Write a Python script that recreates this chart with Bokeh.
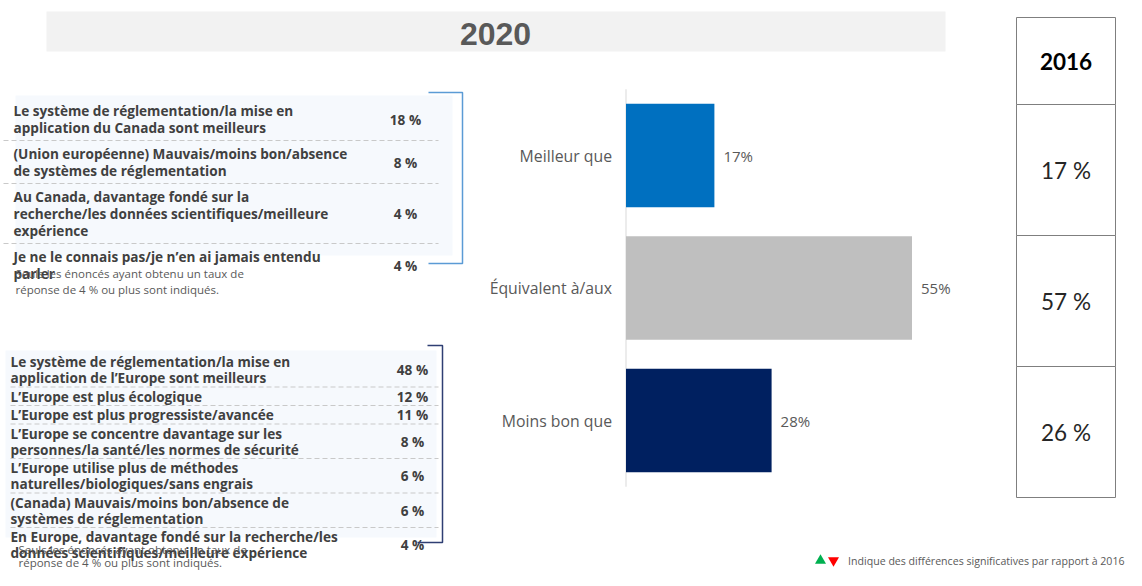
from bokeh.plotting import figure
from bokeh.models import Range1d, ColumnDataSource
from bokeh.core.properties import value
from bokeh.embed import file_html
from bokeh.resources import INLINE

# ---------------- data ----------------
title_year = "2020"
compare_year = "2016"
categories = ["Meilleur que", "Équivalent à/aux", "Moins bon que"]
values_2020 = [17, 55, 28]
values_2016 = [17, 57, 26]
bar_colors = ["#0070C0", "#BFBFBF", "#002060"]

better_reasons = [
    "Le système de réglementation/la mise en\napplication du Canada sont meilleurs",
    "(Union européenne) Mauvais/moins bon/absence\nde systèmes de réglementation",
    "Au Canada, davantage fondé sur la\nrecherche/les données scientifiques/meilleure\nexpérience",
    "Je ne le connais pas/je n’en ai jamais entendu\nparler",
]
better_pct = [18, 8, 4, 4]

worse_reasons = [
    "Le système de réglementation/la mise en\napplication de l’Europe sont meilleurs",
    "L’Europe est plus écologique",
    "L’Europe est plus progressiste/avancée",
    "L’Europe se concentre davantage sur les\npersonnes/la santé/les normes de sécurité",
    "L’Europe utilise plus de méthodes\nnaturelles/biologiques/sans engrais",
    "(Canada) Mauvais/moins bon/absence de\nsystèmes de réglementation",
    "En Europe, davantage fondé sur la recherche/les\ndonnées scientifiques/meilleure expérience",
]
worse_pct = [48, 12, 11, 8, 6, 6, 4]

footnote = "Seuls les énoncés ayant obtenu un taux de\nréponse de 4 % ou plus sont indiqués."
legend_note = "Indique des différences significatives par rapport à 2016"

# ---------------- page geometry ----------------
W, H = 1126, 570
X0, Y0 = 0, 0
FONT = "Open Sans"
TXT = "#404040"
GREY = "#595959"

p = figure(width=W, height=H, x_range=Range1d(X0, X0 + W), y_range=Range1d(Y0 + H, Y0),
           output_backend="svg", toolbar_location=None, min_border=0,
           x_axis_location=None, y_axis_location=None, outline_line_color=None)
p.grid.visible = False
p.background_fill_color = "white"
p.border_fill_color = "white"

# bar scale: value 0 at page x 625.5, 5.2 px per percent; category i at page y 155 + 132.5*i
PX_PER, ZERO_X = 5.2, 625.5
CAT0_Y, CAT_STEP = 155.0, 132.5
p.extra_x_ranges = {"bars": Range1d((X0 - ZERO_X) / PX_PER, (X0 + W - ZERO_X) / PX_PER)}
p.extra_y_ranges = {"bars": Range1d((Y0 + H - CAT0_Y) / CAT_STEP, (Y0 - CAT0_Y) / CAT_STEP)}

# ---------------- title band ----------------
p.quad(left=46, right=945, top=11, bottom=51, fill_color="#F2F2F2", line_color=None)
p.text(x=[495], y=[33], text=[title_year], text_font=value("Liberation Sans"),
       text_font_style="bold", text_font_size="32px", text_color=GREY,
       text_align="center", text_baseline="middle")

# ---------------- tables ----------------
def draw_table(labels, pcts, top, lh, pad, x_text, x_val, x_dash0, x_dash1, size):
    ys_lines, txt_lines, ys_val, dash_y = [], [], [], []
    y = top
    last_line_y = None
    for i, lab in enumerate(labels):
        lines = lab.split("\n")
        hgt = pad + lh * len(lines)
        for j, ln in enumerate(lines):
            ly = y + pad / 2 + lh * (j + 0.5)
            ys_lines.append(ly)
            txt_lines.append(ln)
            last_line_y = ly
        ys_val.append(y + hgt / 2)
        y += hgt
        if i < len(labels) - 1:
            dash_y.append(y)
    p.segment(x0=[x_dash0] * len(dash_y), x1=[x_dash1] * len(dash_y), y0=dash_y, y1=dash_y,
              line_color="#C9C9C9", line_width=1, line_dash="5 3")
    p.text(x=[x_text] * len(txt_lines), y=ys_lines, text=txt_lines, text_font=value(FONT),
           text_font_style="bold", text_font_size=size, text_color=TXT,
           text_align="left", text_baseline="middle")
    p.text(x=[x_val] * len(pcts), y=ys_val, text=[f"{v} %" for v in pcts], text_font=value(FONT),
           text_font_style="bold", text_font_size=size, text_color=TXT,
           text_align="center", text_baseline="middle")
    return last_line_y

def draw_footnote(x, y, lh):
    lines = footnote.split("\n")
    p.text(x=[x] * len(lines), y=[y + lh * k for k in range(len(lines))], text=lines,
           text_font=value(FONT), text_font_size="11.5px", text_color=GREY,
           text_align="left", text_baseline="middle")

# top table
p.quad(left=15, right=452, top=95, bottom=255, fill_color="#F6F9FD", line_color=None)
ly = draw_table(better_reasons, better_pct, 97, 17, 9, 13, 405, 3, 438, "13.6px")
draw_footnote(15, ly, 16)
p.line(x=[428, 462, 462, 428], y=[92, 92, 263, 263], line_color="#5B9BD5", line_width=1.5)

# bottom table
p.quad(left=5, right=436, top=350, bottom=537, fill_color="#F6F9FD", line_color=None)
ly = draw_table(worse_reasons, worse_pct, 352, 16, 2.5, 10, 412, 10, 438, "13.6px")
draw_footnote(18, ly - 3, 13)
p.line(x=[427, 442, 442, 417], y=[345, 345, 542, 542], line_color="#2F3F73", line_width=1.5)

# ---------------- bar chart ----------------
idx = list(range(len(categories)))
src = ColumnDataSource(dict(idx=idx, cat=categories, val=values_2020, color=bar_colors,
                            lab=[f"{v}%" for v in values_2020]))
p.segment(x0=[0], x1=[0], y0=[-0.5], y1=[len(categories) - 0.5], line_color="#D9D9D9",
          line_width=1, x_range_name="bars", y_range_name="bars")
p.hbar(y="idx", left=0, right="val", height=0.78, fill_color="color", line_color=None,
       source=src, x_range_name="bars", y_range_name="bars")
p.text(x=0, y="idx", text="cat", source=src, x_offset=-14, text_font=value(FONT),
       text_font_size="15.8px", text_color=GREY, text_align="right", text_baseline="middle",
       x_range_name="bars", y_range_name="bars")
p.text(x="val", y="idx", text="lab", source=src, x_offset=9, text_font=value(FONT),
       text_font_size="15px", text_color=GREY, text_align="left", text_baseline="middle",
       x_range_name="bars", y_range_name="bars")

# ---------------- 2016 column ----------------
BX0, BX1 = 1016, 1115
edges = [17, 104, 235, 366, 497]
p.quad(left=[BX0] * 4, right=[BX1] * 4, top=edges[:-1], bottom=edges[1:], fill_color="white",
       line_color="#7F7F7F", line_width=1)
p.text(x=[(BX0 + BX1) / 2], y=[(edges[0] + edges[1]) / 2], text=[compare_year],
       text_font=value("Lato"), text_font_style="bold", text_font_size="22.5px",
       text_color="#000000", text_align="center", text_baseline="middle")
p.text(x=[(BX0 + BX1) / 2] * 3, y=[(edges[k] + edges[k + 1]) / 2 for k in range(1, 4)],
       text=[f"{v} %" for v in values_2016], text_font=value("Lato"), text_font_size="22.5px",
       text_color="#262626", text_align="center", text_baseline="middle")

# ---------------- legend note ----------------
p.scatter(x=[820], y=[560], marker="triangle", size=11, fill_color="#00B050", line_color=None)
p.scatter(x=[833], y=[560], marker="inverted_triangle", size=11, fill_color="#FF0000", line_color=None)
p.text(x=[1124], y=[560], text=[legend_note], text_font=value(FONT), text_font_size="10.6px",
       text_color=GREY, text_align="right", text_baseline="middle")

open("out.html", "w").write(file_html(p, INLINE))
